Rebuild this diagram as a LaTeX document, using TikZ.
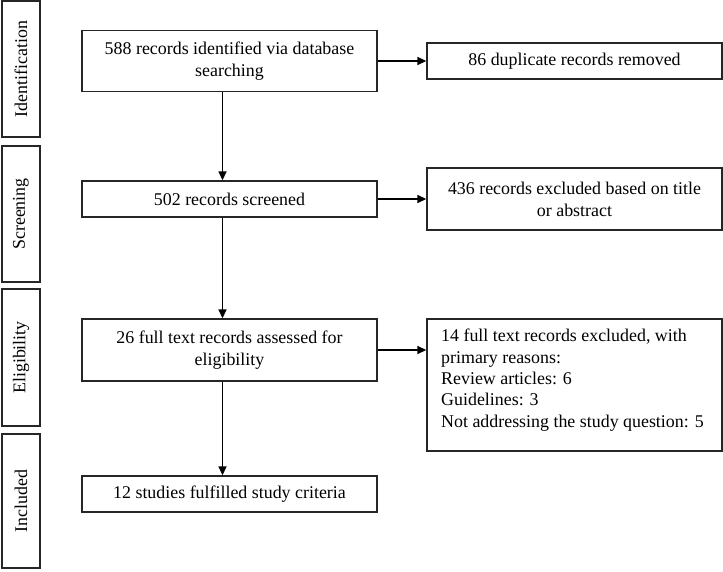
\documentclass[tikz,border=0pt]{standalone}
\usepackage{fontspec}
\setmainfont{Liberation Serif}
\usetikzlibrary{arrows.meta}
\begin{document}
\begin{tikzpicture}[x=1pt,y=-1pt,
  box/.style={draw=black!85,line width=1.3pt,rectangle,inner sep=0pt,align=center,font=\fontsize{17.9}{22}\selectfont},
  side/.style={draw=black!85,line width=1.3pt,rectangle,inner sep=0pt,minimum width=38pt},
  lab/.style={rotate=90,font=\fontsize{17.9}{20}\selectfont},
  arr/.style={line width=1.4pt,-{Triangle[length=9pt,width=8pt]}}]
\useasboundingbox (0,0) rectangle (723,572);
% side boxes
\node[side,minimum height=136pt] (s1) at (21,69) {};
\node[lab] at (s1.center) {Identification};
\node[side,minimum height=136pt] (s2) at (21,214) {};
\node[lab] at (s2.center) {Screening};
\node[side,minimum height=137pt] (s3) at (21,357.5) {};
\node[lab] at (s3.center) {Eligibility};
\node[side,minimum height=134pt] (s4) at (21,501) {};
\node[lab] at (s4.center) {Included};
% main boxes
\node[box,minimum width=295pt,minimum height=61pt] (b1) at (229.5,61) {588 records identified via database\\searching};
\node[box,minimum width=295pt,minimum height=36pt] (b2) at (229.5,199) {502 records screened};
\node[box,minimum width=295pt,minimum height=62pt] (b3) at (229.5,350) {26 full text records assessed for\\eligibility};
\node[box,minimum width=295pt,minimum height=36pt] (b4) at (229.5,494) {12 studies fulfilled study criteria};
% right boxes
\node[box,minimum width=295pt,minimum height=36pt] (r1) at (574.5,61) {86 duplicate records removed};
\node[box,minimum width=295pt,minimum height=62pt] (r2) at (574.5,199) {436 records excluded based on title\\or abstract};
\node[box,minimum width=295pt,minimum height=132pt] (r3) at (574.5,385) {};
\node[anchor=north west,align=left,inner sep=0pt,font=\fontsize{17.9}{21.3}\selectfont] (t3) at (441,329) {14 full text records excluded, with\\primary reasons:\\Review articles: 6\\Guidelines: 3\\Not addressing the study question: 5};
% arrows
\coordinate (ax) at (222.5,0);
\draw[arr] (b1.south -| ax) -- (b2.north -| ax);
\draw[arr] (b2.south -| ax) -- (b3.north -| ax);
\draw[arr] (b3.south -| ax) -- (b4.north -| ax);
\draw[arr] (b1.east) -- (b1.east -| r1.west);
\draw[arr] (b2.east) -- (b2.east -| r2.west);
\draw[arr] (b3.east) -- (b3.east -| r3.west);
\end{tikzpicture}
\end{document}
